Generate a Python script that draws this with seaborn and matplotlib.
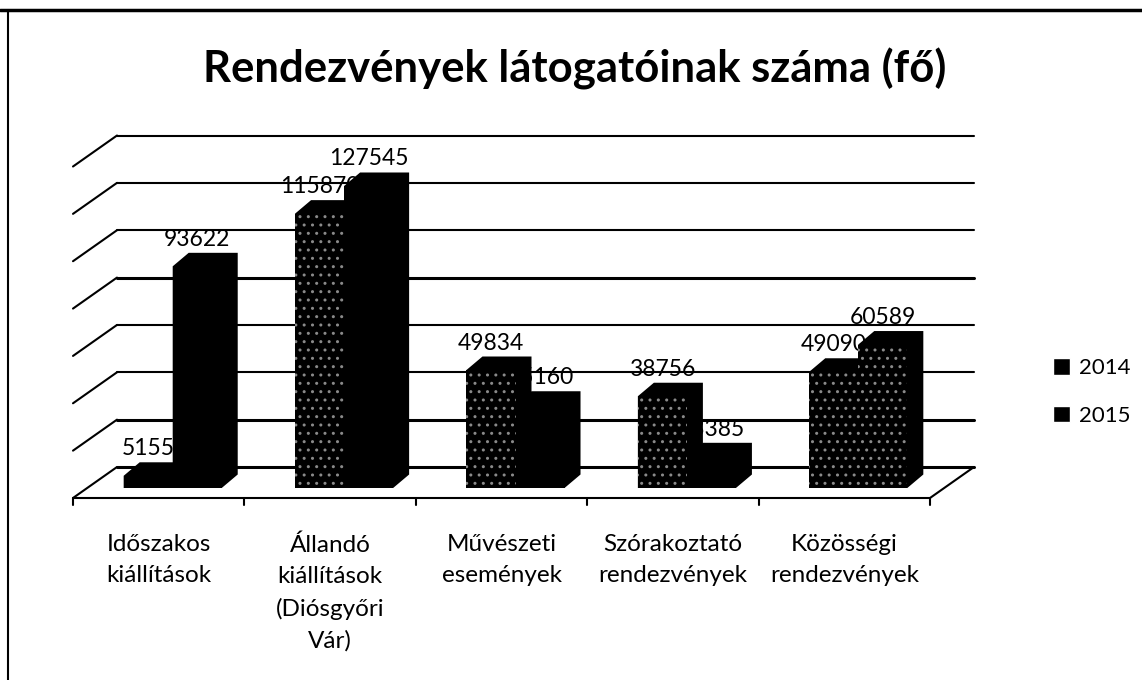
import pandas as pd
import matplotlib
matplotlib.use('Agg')
import matplotlib.pyplot as plt
from matplotlib.lines import Line2D
from matplotlib.patches import Polygon
import seaborn as sns

categories = ['Időszakos\nkiállítások', 'Állandó\nkiállítások\n(Diósgyőri\nVár)', 'Művészeti\nesemények',
              'Szórakoztató\nrendezvények', 'Közösségi\nrendezvények']
series_names = ['2014', '2015']
values_2014 = [5155, 115870, 49834, 38756, 49090]
values_2015 = [93622, 127545, 35160, 13385, 60589]
grid_levels = [0, 20000, 40000, 60000, 80000, 100000, 120000, 140000]

df = pd.DataFrame({
    'cat': categories * 2,
    'ev': ['2014'] * 5 + ['2015'] * 5,
    'fo': values_2014 + values_2015,
})

sns.set_theme(style='white')
plt.rcParams['font.family'] = ['Lato', 'DejaVu Sans']

W, H = 1142, 680
fig = plt.figure(figsize=(W / 100, H / 100), dpi=100)
ax = fig.add_axes([87 / W, (H - 488) / H, 857 / W, 331.5 / H])

sns.barplot(data=df, x='cat', y='fo', hue='ev', palette=['black', 'black'], width=0.572, gap=0,
            saturation=1, ax=ax)
ax.set_xlim(-0.5, 4.5)
ax.set_ylim(0, 140000)
ax.axis('off')

# pixel -> adat egyseg
px_x = 5 / 857
px_y = 140000 / 331.5

back_x, back_y = 30 * px_x, 21 * px_y
front_x, front_y = -14 * px_x, -10 * px_y
x0, x1 = -0.5, 4.5

# racsvonalak a hatso falon es az oldalso atlok
for lev in grid_levels:
    lw = 2.2 if lev in (0, 20000, 80000) else 1.5
    ax.plot([x0 + back_x, x1 + back_x], [lev + back_y, lev + back_y], color='black', lw=lw, zorder=1, clip_on=False)
    ax.plot([x0 + front_x, x0 + back_x], [lev + front_y, lev + back_y], color='black', lw=1.5, zorder=1, clip_on=False)

# padlo
ax.plot([x0 + front_x, x1 + front_x, x1 + back_x], [front_y, front_y, back_y], color='black', lw=1.5, zorder=1,
        clip_on=False)
for i in range(6):
    ax.plot([x0 + i + front_x] * 2, [front_y, front_y - 7 * px_y], color='black', lw=1.5, zorder=1, clip_on=False)

# 3D hatas: oszlopok teljes korvonala a sav alatt, igy nincs feher csik
depth_x, depth_y = 16 * px_x, 13.5 * px_y
for c, container in enumerate(ax.containers):
    for k, bar in enumerate(container):
        x, w, h = bar.get_x(), bar.get_width(), bar.get_height()
        bar.set_zorder(3)
        bar.set_linewidth(0)
        if (c == 0 and k > 0) or (c == 1 and k == 4):
            bar.set_hatch('..')
            bar.set_edgecolor('#8a8a8a')
        ax.add_patch(Polygon([(x, 0), (x, h), (x + depth_x, h + depth_y), (x + w + depth_x, h + depth_y),
                              (x + w + depth_x, depth_y), (x + w, 0)],
                             closed=True, facecolor='black', edgecolor='none', zorder=2.9, clip_on=False))
        ax.text(x + w / 2, h + 27 * px_y, f'{int(h)}', ha='center', va='center', fontsize=16.5,
                color='black', zorder=2.5)

# kategoria feliratok
for i, cat in enumerate(categories):
    ax.text(i + front_x, -46 * px_y, cat, ha='center', va='top', fontsize=17.5, color='black',
            linespacing=1.6)

handles, labels = ax.get_legend_handles_labels()
ax.get_legend().remove()
fig.legend(handles, labels, loc='center left', bbox_to_anchor=(1053 / W, (H - 392) / H), frameon=False,
           fontsize=16, labelspacing=1.25, handlelength=0.75, handleheight=0.75, handletextpad=0.4,
           borderaxespad=0, borderpad=0, labelcolor='black')

fig.text(575 / W, (H - 69) / H, 'Rendezvények látogatóinak száma (fő)', ha='center', va='center',
         fontsize=31.4, fontweight='bold', color='black')

# kulso keret (szkennelt lap szele)
fig.add_artist(Line2D([0, 1], [(H - 10) / H] * 2, color='black', lw=2.5))
fig.add_artist(Line2D([8 / W, 8 / W], [0, (H - 10) / H], color='black', lw=1.5))

fig.savefig('out.png', dpi=100, facecolor='white')
